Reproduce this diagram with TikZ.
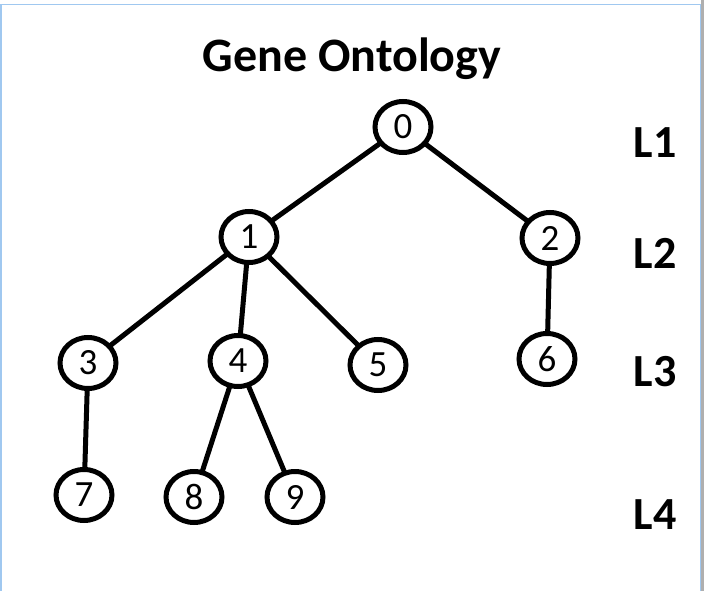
\documentclass[tikz,border=0pt]{standalone}
\usepackage{fontspec}
\setmainfont{Carlito}
\usetikzlibrary{shapes.geometric}
\definecolor{framec}{RGB}{160,200,240}
\definecolor{stripc}{RGB}{175,175,175}
\begin{document}
\begin{tikzpicture}[x=1pt,y=-1pt,
  gonode/.style={ellipse,draw=black,line width=5pt,fill=white,minimum width=56pt,minimum height=51pt,inner sep=0pt,font=\fontsize{37}{40}\selectfont},
  golink/.style={draw=black,line width=5pt},
  lvl/.style={font=\fontsize{46}{50}\selectfont\bfseries,anchor=center},
  ttl/.style={font=\fontsize{48}{52}\selectfont\bfseries,anchor=center}]
\useasboundingbox (0,0) rectangle (704,591);
\fill[white] (0,0) rectangle (704,591);
\fill[stripc] (701,0) rectangle (704,591);
\draw[framec,line width=1.5pt] (0.75,591) -- (0.75,4.5) -- (700.5,4.5) -- (700.5,591);
\node[ttl] (title) at (352,59) {Gene Ontology};
\node[lvl] (l1) at (655,143) {L1};
\node[lvl] (l2) at (655,253) {L2};
\node[lvl] (l3) at (655,372) {L3};
\node[lvl] (l4) at (655,515) {L4};
\coordinate (p0) at (403,127);
\coordinate (p1) at (249,237);
\coordinate (p2) at (550,238);
\coordinate (p3) at (88,363);
\coordinate (p4) at (238,361);
\coordinate (p5) at (378,365);
\coordinate (p6) at (547,359);
\coordinate (p7) at (84,495);
\coordinate (p8) at (194,497);
\coordinate (p9) at (295,497);
\draw[golink] (p0) -- (p1);
\draw[golink] (p0) -- (p2);
\draw[golink] (p1) -- (p3);
\draw[golink] (p1) -- (p4);
\draw[golink] (p1) -- (p5);
\draw[golink] (p2) -- (p6);
\draw[golink] (p3) -- (p7);
\draw[golink] (p4) -- (p8);
\draw[golink] (p4) -- (p9);
\node[gonode] (n0) at (p0) {0};
\node[gonode] (n1) at (p1) {1};
\node[gonode] (n2) at (p2) {2};
\node[gonode] (n3) at (p3) {3};
\node[gonode] (n4) at (p4) {4};
\node[gonode] (n5) at (p5) {5};
\node[gonode] (n6) at (p6) {6};
\node[gonode] (n7) at (p7) {7};
\node[gonode] (n8) at (p8) {8};
\node[gonode] (n9) at (p9) {9};
\end{tikzpicture}
\end{document}
